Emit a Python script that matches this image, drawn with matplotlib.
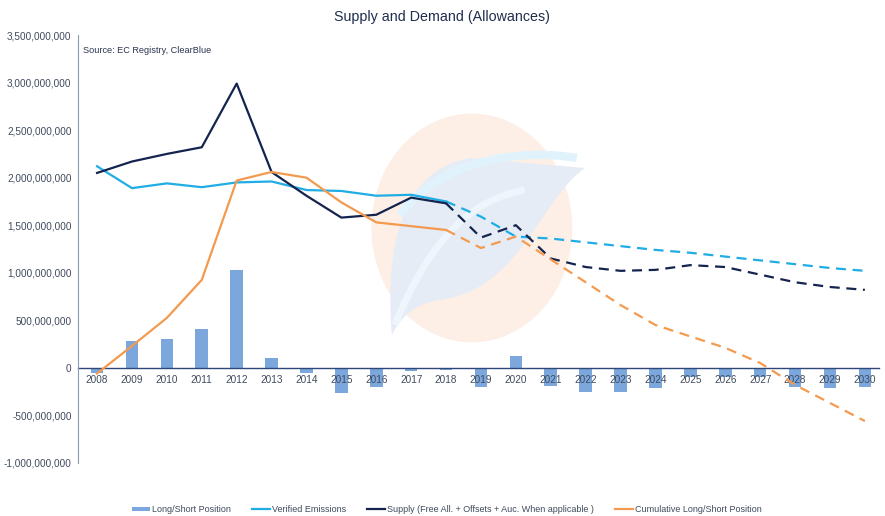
import numpy as np
import matplotlib
matplotlib.use("Agg")
import matplotlib.pyplot as plt
from matplotlib.patches import Ellipse, PathPatch
from matplotlib.path import Path
from matplotlib.ticker import FuncFormatter

plt.rcParams['font.family'] = ['Liberation Sans', 'DejaVu Sans']

# data (allowances)
years = np.arange(2008, 2031)
long_short = np.array([-55, 280, 305, 410, 1030, 105, -50, -265, -200, -35, -25,
                       -205, 125, -190, -255, -250, -215, -95, -95, -100, -200, -215, -200]) * 1e6
verified = np.array([2.12, 1.89, 1.94, 1.90, 1.95, 1.96, 1.87, 1.86, 1.81, 1.82, 1.75,
                     1.59, 1.38, 1.36, 1.32, 1.28, 1.24, 1.21, 1.17, 1.13, 1.09, 1.05, 1.02]) * 1e9
supply = np.array([2.05, 2.17, 2.25, 2.32, 2.99, 2.06, 1.81, 1.58, 1.61, 1.79, 1.73,
                   1.37, 1.50, 1.15, 1.06, 1.02, 1.03, 1.08, 1.06, 0.98, 0.90, 0.85, 0.82]) * 1e9
cumulative = np.array([-0.06, 0.23, 0.525, 0.925, 1.97, 2.06, 2.0, 1.74, 1.53, 1.49, 1.45,
                       1.26, 1.38, 1.14, 0.90, 0.66, 0.45, 0.33, 0.21, 0.05, -0.18, -0.37, -0.56]) * 1e9
last_actual = 2018

c_bar = '#7ba7dc'
c_ver = '#1fade4'
c_sup = '#14244e'
c_cum = '#f39a4f'
c_txt = '#3f4a5c'

fig = plt.figure(figsize=(8.85, 5.16), dpi=100)
ax = fig.add_axes([0.088, 0.103, 0.905, 0.829])

# faint logo watermark (drawn in pixel-ish space -> axes fraction)
def px(x, y):
    return ((x - 78) / 801, (463 - y) / 428)

ax.add_patch(Ellipse(px(472, 228), 201 / 801, 229 / 428, transform=ax.transAxes,
                     color='#fdeee3', alpha=0.9, zorder=0, lw=0))
leaf = Path([px(392, 335), px(385, 250), px(400, 170), px(470, 158),
             px(585, 168),
             px(540, 200), px(520, 290), px(440, 300),
             px(410, 305), px(400, 320), px(392, 335)],
            [Path.MOVETO, Path.CURVE4, Path.CURVE4, Path.CURVE4,
             Path.LINETO,
             Path.CURVE4, Path.CURVE4, Path.CURVE4,
             Path.CURVE4, Path.CURVE4, Path.CURVE4])
ax.add_patch(PathPatch(leaf, transform=ax.transAxes, facecolor='#e6ecf6',
                       edgecolor='none', zorder=0.1))
vein = Path([px(395, 325), px(430, 240), px(470, 200), px(525, 190)],
            [Path.MOVETO, Path.CURVE4, Path.CURVE4, Path.CURVE4])
ax.add_patch(PathPatch(vein, transform=ax.transAxes, facecolor='none',
                       edgecolor='#eef5fc', lw=5, zorder=0.2))
band = Path([px(400, 215), px(440, 160), px(520, 148), px(577, 158)],
            [Path.MOVETO, Path.CURVE4, Path.CURVE4, Path.CURVE4])
ax.add_patch(PathPatch(band, transform=ax.transAxes, facecolor='none',
                       edgecolor='#e0f3fc', lw=6, zorder=0.2))

ax.bar(years, long_short, width=0.36, color=c_bar, zorder=1, label='Long/Short Position')

solid = years <= last_actual
dash = years >= last_actual
for vals, col, lab in [(verified, c_ver, 'Verified Emissions'),
                       (supply, c_sup, 'Supply (Free All. + Offsets + Auc. When applicable )'),
                       (cumulative, c_cum, 'Cumulative Long/Short Position')]:
    ax.plot(years[solid], vals[solid], color=col, lw=1.6, zorder=3, label=lab)
    ax.plot(years[dash], vals[dash], color=col, lw=1.6, zorder=3, dashes=(4.5, 3))

ax.set_xlim(2007.45, 2030.4)
ax.set_ylim(-1e9, 3.5e9)
ax.set_yticks(np.arange(-1e9, 3.51e9, 5e8))
ax.yaxis.set_major_formatter(FuncFormatter(lambda v, p: f'{v:,.0f}'))
ax.set_xticks(years)
ax.tick_params(axis='both', length=0, labelsize=7.2, colors=c_txt)
ax.tick_params(axis='x', pad=5)
ax.tick_params(axis='y', pad=4.5)

for s in ['top', 'right']:
    ax.spines[s].set_visible(False)
ax.spines['bottom'].set_position(('data', 0))
ax.spines['bottom'].set_color('#2d4778')
ax.spines['bottom'].set_linewidth(1.0)
ax.spines['bottom'].set_zorder(2)
ax.spines['left'].set_color('#8d9bb0')
ax.spines['left'].set_linewidth(0.8)

ax.text(0.007, 0.975, 'Source: EC Registry, ClearBlue', transform=ax.transAxes,
        fontsize=6.6, color='#2a3550', va='top')

fig.text(0.5, 0.967, 'Supply and Demand (Allowances)', ha='center', va='center',
         fontsize=10.3, color='#1f2d4d')

handles, labels = ax.get_legend_handles_labels()
order = [3, 0, 1, 2]
fig.legend([handles[i] for i in order], [labels[i] for i in order],
           loc='lower center', bbox_to_anchor=(0.505, -0.012), ncol=4, frameon=False,
           fontsize=6.5, labelcolor=c_txt, handlelength=2.0, handleheight=0.35,
           columnspacing=2.3, handletextpad=0.25)

fig.savefig('out.png', dpi=100)
